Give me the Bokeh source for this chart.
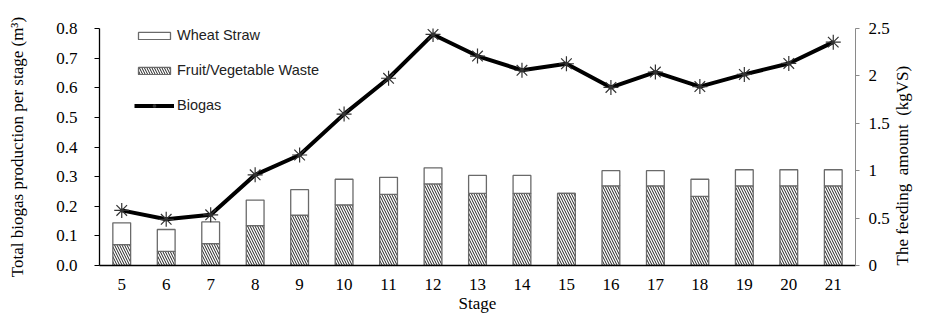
import math
from bokeh.plotting import figure
from bokeh.models import (Range1d, LinearAxis, FixedTicker, Legend, LegendItem,
                          ColumnDataSource)
from bokeh.embed import file_html
from bokeh.resources import INLINE

# ---- data ----
stages = [5, 6, 7, 8, 9, 10, 11, 12, 13, 14, 15, 16, 17, 18, 19, 20, 21]
fruit_veg_waste = [0.22, 0.15, 0.23, 0.42, 0.53, 0.64, 0.75, 0.86, 0.76, 0.76,
                   0.76, 0.84, 0.84, 0.73, 0.84, 0.84, 0.84]          # kgVS
wheat_straw = [0.23, 0.23, 0.23, 0.27, 0.27, 0.27, 0.18, 0.17, 0.19, 0.19,
               0.0, 0.16, 0.16, 0.18, 0.17, 0.17, 0.17]                # kgVS
biogas = [0.186, 0.156, 0.171, 0.306, 0.373, 0.511, 0.632, 0.780, 0.707, 0.659,
          0.681, 0.601, 0.653, 0.604, 0.645, 0.682, 0.754]            # m3
left_ticks = [0.0, 0.1, 0.2, 0.3, 0.4, 0.5, 0.6, 0.7, 0.8]
left_labels = ["0.0", "0.1", "0.2", "0.3", "0.4", "0.5", "0.6", "0.7", "0.8"]
right_ticks = [0, 0.5, 1.0, 1.5, 2.0, 2.5]
right_labels = ["0", "0.5", "1", "1.5", "2", "2.5"]

SERIF = "Liberation Serif"
SANS = "Liberation Sans"

p = figure(width=924, height=317, output_backend="svg", toolbar_location=None,
           x_range=Range1d(stages[0] - 0.5, stages[-1] + 0.5), y_range=Range1d(0, 0.8),
           min_border_left=99, min_border_right=64, min_border_top=28,
           min_border_bottom=52)
p.outline_line_color = None
p.xgrid.visible = False
p.ygrid.visible = False
p.extra_y_ranges = {"feed": Range1d(0, 2.5)}

src = ColumnDataSource(dict(stage=stages, fvw=fruit_veg_waste, ws=wheat_straw))
bars = p.vbar_stack(["fvw", "ws"], x="stage", width=0.4, source=src,
                    y_range_name="feed",
                    fill_color="white", line_color="#6a6a6a", line_width=1.3,
                    hatch_pattern=["left_diagonal_line", " "],
                    hatch_color="#222222", hatch_scale=5, hatch_weight=1)

ln = p.line(stages, biogas, line_color="black", line_width=4)
mk = p.scatter(stages, biogas, marker="asterisk", size=15,
               line_color="#333333", line_width=1.2)

# axes styling
xa = p.xaxis[0]
xa.ticker = FixedTicker(ticks=stages)
xa.axis_label = "Stage"
xa.axis_line_color = "black"
xa.axis_line_width = 1.3
xa.major_tick_line_color = None
xa.minor_tick_line_color = None
xa.major_tick_out = 0
xa.major_tick_in = 0
xa.major_label_standoff = 13
xa.axis_label_standoff = 1
xa.major_label_text_font = SERIF
xa.major_label_text_font_size = "17px"
xa.major_label_text_color = "black"
xa.axis_label_text_font = SERIF
xa.axis_label_text_font_size = "17px"
xa.axis_label_text_font_style = "normal"
xa.axis_label_text_color = "black"

ya = p.yaxis[0]
ya.ticker = FixedTicker(ticks=left_ticks)
ya.major_label_overrides = {t: l for t, l in zip(left_ticks, left_labels)}
ya.axis_label = "Total biogas production per stage (m³)"
ya.axis_line_color = "black"
ya.axis_line_width = 1.3
ya.major_tick_line_color = "black"
ya.major_tick_out = 5
ya.major_tick_in = 0
ya.minor_tick_line_color = None
ya.major_label_standoff = 17
ya.axis_label_standoff = 26
ya.major_label_text_font = SERIF
ya.major_label_text_font_size = "17px"
ya.major_label_text_color = "black"
ya.axis_label_text_font = SERIF
ya.axis_label_text_font_size = "17px"
ya.axis_label_text_font_style = "normal"
ya.axis_label_text_color = "black"

ra = LinearAxis(y_range_name="feed", ticker=FixedTicker(ticks=right_ticks),
                axis_label="The feeding\u00a0 amount\u00a0 (kgVS)")
ra.major_label_overrides = {t: l for t, l in zip(right_ticks, right_labels)}
ra.axis_line_color = "#8a8a8a"
ra.major_tick_line_color = "#8a8a8a"
ra.major_tick_out = 4
ra.major_tick_in = 0
ra.minor_tick_line_color = None
ra.major_label_standoff = 9
ra.axis_label_standoff = 10
ra.axis_label_orientation = math.pi / 2
ra.axis_label_align = "start"
ra.major_label_text_font = SERIF
ra.major_label_text_font_size = "17px"
ra.major_label_text_color = "black"
ra.axis_label_text_font = SERIF
ra.axis_label_text_font_size = "17px"
ra.axis_label_text_font_style = "normal"
ra.axis_label_text_color = "black"
p.add_layout(ra, "right")

legend = Legend(items=[LegendItem(label="Wheat Straw", renderers=[bars[1]]),
                       LegendItem(label="Fruit/Vegetable Waste", renderers=[bars[0]]),
                       LegendItem(label="Biogas", renderers=[ln, mk])],
                location=(35, 152), orientation="vertical",
                glyph_width=40, glyph_height=9, label_height=14,
                label_standoff=3, spacing=19, padding=0, margin=0,
                border_line_color=None, background_fill_alpha=0,
                label_text_font=SANS, label_text_font_size="14.5px",
                label_text_color="#222222")
p.add_layout(legend, "center")

open("out.html", "w").write(file_html(p, INLINE))
